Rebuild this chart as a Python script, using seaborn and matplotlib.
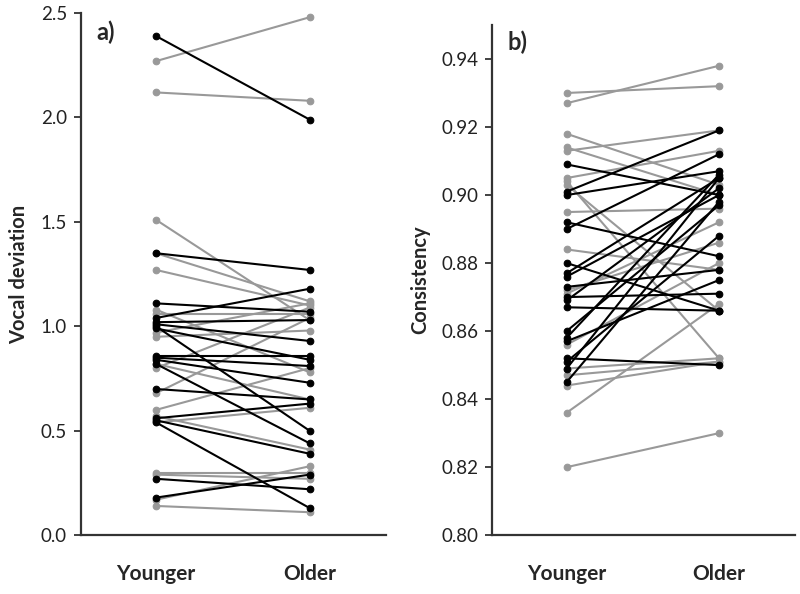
import matplotlib
matplotlib.use("Agg")
import matplotlib.pyplot as plt
import seaborn as sns
import pandas as pd

groups = ["Younger", "Older"]

# vocal deviation, panel a)
vd_gray_young = [2.27, 2.12, 1.51, 1.35, 1.27, 1.08, 1.06, 0.97, 0.95, 0.82, 0.80,
                 0.68, 0.60, 0.57, 0.54, 0.30, 0.29, 0.17, 0.14]
vd_gray_old = [2.48, 2.08, 1.03, 1.12, 1.10, 0.78, 1.06, 1.11, 0.98, 0.65, 1.09,
               1.04, 0.80, 0.41, 0.61, 0.30, 0.27, 0.33, 0.11]
vd_black_young = [2.39, 1.35, 1.11, 1.04, 1.02, 1.01, 1.00, 0.99, 0.86, 0.85, 0.84,
                  0.82, 0.70, 0.56, 0.55, 0.54, 0.27, 0.18]
vd_black_old = [1.99, 1.27, 1.07, 1.18, 1.03, 0.93, 0.50, 0.84, 0.86, 0.81, 0.73,
                0.44, 0.65, 0.63, 0.39, 0.13, 0.22, 0.29]

# consistency, panel b)
cs_gray_young = [0.930, 0.927, 0.918, 0.914, 0.913, 0.905, 0.904, 0.903, 0.895, 0.884,
                 0.872, 0.871, 0.856, 0.849, 0.847, 0.844, 0.836, 0.820]
cs_gray_old = [0.932, 0.938, 0.903, 0.900, 0.919, 0.913, 0.852, 0.866, 0.896, 0.878,
               0.886, 0.892, 0.880, 0.852, 0.851, 0.851, 0.868, 0.830]
cs_black_young = [0.909, 0.901, 0.900, 0.892, 0.890, 0.880, 0.877, 0.876, 0.873, 0.870,
                  0.869, 0.867, 0.860, 0.858, 0.857, 0.852, 0.851, 0.849, 0.845]
cs_black_old = [0.900, 0.919, 0.907, 0.882, 0.912, 0.866, 0.905, 0.900, 0.878, 0.871,
                0.902, 0.866, 0.897, 0.906, 0.875, 0.850, 0.888, 0.905, 0.898]


def to_long(young, old, tag):
    rows = []
    for i, (a, b) in enumerate(zip(young, old)):
        rows.append({"subject": f"{tag}{i}", "x": 0, "value": a})
        rows.append({"subject": f"{tag}{i}", "x": 1, "value": b})
    return pd.DataFrame(rows)


sns.set_style("ticks")
plt.rcParams["font.family"] = ["Lato", "DejaVu Sans"]

fig = plt.figure(figsize=(8, 5.94), dpi=100)
ax1 = fig.add_axes([0.101, 0.099, 0.382, 0.879])
ax2 = fig.add_axes([0.615, 0.099, 0.379, 0.859])

panels = [
    (ax1, vd_gray_young, vd_gray_old, vd_black_young, vd_black_old,
     "Vocal deviation", (0, 2.5), [0, 0.5, 1.0, 1.5, 2.0, 2.5], "{:.1f}", "a)"),
    (ax2, cs_gray_young, cs_gray_old, cs_black_young, cs_black_old,
     "Consistency", (0.80, 0.95), [0.80, 0.82, 0.84, 0.86, 0.88, 0.90, 0.92, 0.94], "{:.2f}", "b)"),
]

for ax, gy, go, by, bo, ylab, ylim, ticks, fmt, tag in panels:
    for young, old, col, name in [(gy, go, "#999999", "g"), (by, bo, "black", "b")]:
        df = to_long(young, old, name)
        sns.lineplot(data=df, x="x", y="value", units="subject", estimator=None,
                     color=col, lw=1.5, marker="o", markersize=4.8,
                     markeredgecolor=col, ax=ax)
    ax.set_xlim(-0.49, 1.5)
    ax.set_ylim(*ylim)
    ax.set_yticks(ticks)
    ax.set_yticklabels([fmt.format(t) for t in ticks], fontsize=13.5, color="#222222")
    ax.set_xticks([0, 1])
    ax.set_xticklabels(groups, fontsize=15, fontweight="bold")
    ax.tick_params(axis="x", length=0, pad=21)
    ax.tick_params(axis="y", length=5, width=1.3, color="#333333", pad=5)
    ax.set_xlabel("")
    ax.set_ylabel(ylab, fontsize=14.5, fontweight="bold", labelpad=8)
    for s in ["left", "bottom"]:
        ax.spines[s].set_linewidth(1.6)
        ax.spines[s].set_color("#333333")
    sns.despine(ax=ax)
    ax.text(0.05, 0.985 if tag == "a)" else 0.99, tag, transform=ax.transAxes,
            fontsize=17, fontweight="bold", va="top")

fig.savefig("out.png", dpi=100)
